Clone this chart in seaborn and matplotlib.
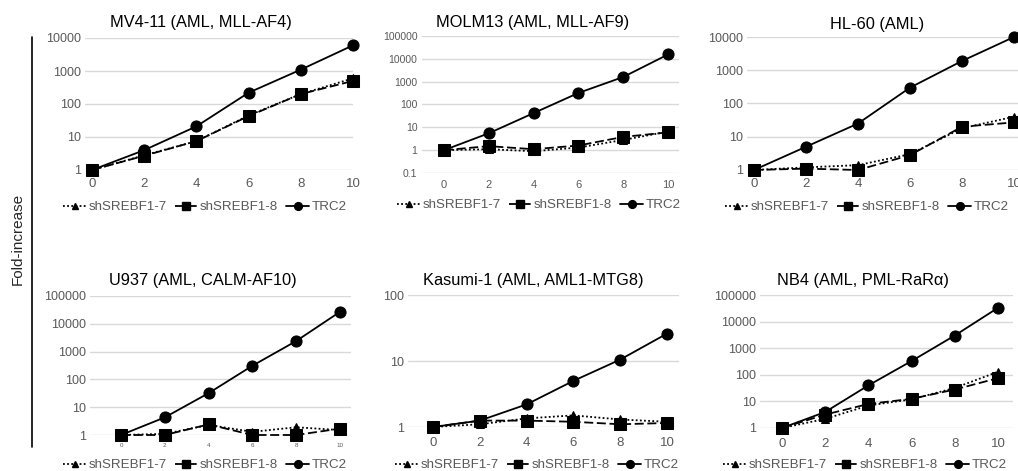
import matplotlib
matplotlib.use("Agg")
import matplotlib.pyplot as plt
import matplotlib.lines as mlines
import matplotlib.ticker as mticker
import pandas as pd
import seaborn as sns

W, H = 1018, 471

days = [0, 2, 4, 6, 8, 10]
series = ["shSREBF1-7", "shSREBF1-8", "TRC2"]

titles = [
    "MV4-11 (AML, MLL-AF4)",
    "MOLM13 (AML, MLL-AF9)",
    "HL-60 (AML)",
    "U937 (AML, CALM-AF10)",
    "Kasumi-1 (AML, AML1-MTG8)",
    "NB4 (AML, PML-RaR\u03b1)",
]

# fold-increase values per panel: shSREBF1-7, shSREBF1-8, TRC2
mv411_sh7 = [1, 2.8, 7.5, 45, 200, 600]
mv411_sh8 = [1, 2.7, 7.5, 43, 200, 500]
mv411_trc = [1, 4, 21, 220, 1100, 6000]

molm13_sh7 = [1, 1.1, 0.9, 1.3, 2.8, 6.5]
molm13_sh8 = [1, 1.5, 1.1, 1.6, 3.8, 6]
molm13_trc = [1, 5.5, 42, 320, 1600, 15500]

hl60_sh7 = [1, 1.2, 1.4, 3, 18, 40]
hl60_sh8 = [1, 1.1, 1.0, 2.8, 20, 27]
hl60_trc = [1, 5, 25, 300, 1900, 10000]

u937_sh7 = [1, 1.1, 2.3, 1.3, 1.9, 1.5]
u937_sh8 = [1, 1.0, 2.4, 1.0, 1.0, 1.7]
u937_trc = [1, 4.3, 32, 310, 2400, 27000]

kasumi_sh7 = [1, 1.1, 1.35, 1.5, 1.3, 1.2]
kasumi_sh8 = [1, 1.25, 1.25, 1.2, 1.1, 1.15]
kasumi_trc = [1, 1.25, 2.2, 5, 10.5, 26]

nb4_sh7 = [1, 2.2, 7, 12, 32, 130]
nb4_sh8 = [1, 3.2, 8, 12.5, 28, 75]
nb4_trc = [1, 4, 40, 330, 3000, 33000]

panel_values = [
    (mv411_sh7, mv411_sh8, mv411_trc),
    (molm13_sh7, molm13_sh8, molm13_trc),
    (hl60_sh7, hl60_sh8, hl60_trc),
    (u937_sh7, u937_sh8, u937_trc),
    (kasumi_sh7, kasumi_sh8, kasumi_trc),
    (nb4_sh7, nb4_sh8, nb4_trc),
]

y_ranges = [(1, 1e4), (0.1, 1e5), (1, 1e4), (1, 1e5), (1, 100), (1, 1e5)]

# layout in pixels: x of day 0, x of day 10, top px, bottom px, left pad (days), right pad
LAYOUT = [
    (92, 353, 38, 170, 0.25, 0.0),
    (444, 668, 36, 173, 1.0, 0.5),
    (754, 1014, 37, 170, 0.27, 0.3),
    (121, 340, 296, 435, 1.4, 0.5),
    (433, 667, 295, 427, 1.07, 0.5),
    (782, 998, 295, 428, 1.0, 0.7),
]
TITLE_POS = [(201, 23), (533, 22), (877, 24), (203, 280), (533, 280), (863, 280)]
LEGEND_POS = [(205, 207), (539, 205), (867, 207), (205, 465), (537, 465), (865, 465)]
XTICK_SIZE = [9.5, 8, 9.5, 4.5, 9.5, 9.5]
XTICK_PAD = [6, 5, 6, 6, 7, 7]
YTICK_SIZE = [9, 7.5, 9, 9, 9, 9]

MARKERS = {"shSREBF1-7": "^", "shSREBF1-8": "s", "TRC2": "o"}
DASHES = {"shSREBF1-7": (1, 1.3), "shSREBF1-8": (5, 2), "TRC2": ""}
MSIZE = {"shSREBF1-7": 6, "shSREBF1-8": 8.5, "TRC2": 8}

sns.set_theme(style="white")
plt.rcParams["font.family"] = ["Liberation Sans", "DejaVu Sans"]

fig = plt.figure(figsize=(W / 100, H / 100), dpi=100)


def px_rect(x0, x10, top, bot, lpad, rpad):
    u = (x10 - x0) / 10
    left = x0 - lpad * u
    right = x10 + rpad * u
    return [left / W, 1 - bot / H, (right - left) / W, (bot - top) / H]


for i in range(6):
    lay = LAYOUT[i]
    ax = fig.add_axes(px_rect(*lay))
    rows = []
    for name, vals in zip(series, panel_values[i]):
        for d, v in zip(days, vals):
            rows.append({"day": d, "fold": v, "series": name})
    df = pd.DataFrame(rows)
    for name in series:
        sub = df[df["series"] == name]
        sns.lineplot(
            data=sub, x="day", y="fold", ax=ax, color="black",
            marker=MARKERS[name], markersize=MSIZE[name], markeredgecolor="black",
            linewidth=1.3, legend=False, zorder=3, clip_on=False,
        )
        if DASHES[name]:
            ax.lines[-1].set_dashes(DASHES[name])
    ax.set_yscale("log")
    ax.set_ylim(*y_ranges[i])
    ax.set_xlim(-lay[4], 10 + lay[5])
    ax.set_xticks(days)
    lo, hi = y_ranges[i]
    ticks = []
    t = lo
    while t <= hi * 1.001:
        ticks.append(t)
        t *= 10
    ax.set_yticks(ticks)
    ax.set_yticklabels([f"{t:g}" for t in ticks])
    ax.yaxis.set_minor_locator(mticker.NullLocator())
    ax.grid(axis="y", color="#d9d9d9", linewidth=1)
    ax.set_axisbelow(True)
    for s in ax.spines.values():
        s.set_visible(False)
    ax.tick_params(axis="x", length=0, pad=XTICK_PAD[i], labelsize=XTICK_SIZE[i], labelcolor="#595959")
    ax.tick_params(axis="y", length=0, pad=3, labelsize=YTICK_SIZE[i], labelcolor="#595959")
    ax.set_xlabel("")
    ax.set_ylabel("")

    tx, ty = TITLE_POS[i]
    fig.text(tx / W, 1 - ty / H, titles[i], ha="center", va="center", fontsize=11.8, color="black")

    handles = [
        mlines.Line2D([], [], color="black", marker=MARKERS[n], markersize=MSIZE[n] * 0.7,
                      linewidth=1.3, dashes=DASHES[n] if DASHES[n] else (None, None))
        for n in series
    ]
    lx, ly = LEGEND_POS[i]
    fig.legend(handles, series, loc="center", bbox_to_anchor=(lx / W, 1 - ly / H), ncol=3,
               frameon=False, fontsize=9.6, handlelength=1.7, columnspacing=0.6,
               handletextpad=0.2, labelcolor="#595959", borderpad=0)

fig.text(18 / W, 1 - 239 / H, "Fold-increase", rotation=90, ha="center", va="center", fontsize=11)
fig.add_artist(mlines.Line2D([32 / W, 32 / W], [1 - 37 / H, 1 - 447 / H], color="black", linewidth=1.2))

fig.savefig("out.png", dpi=100)
